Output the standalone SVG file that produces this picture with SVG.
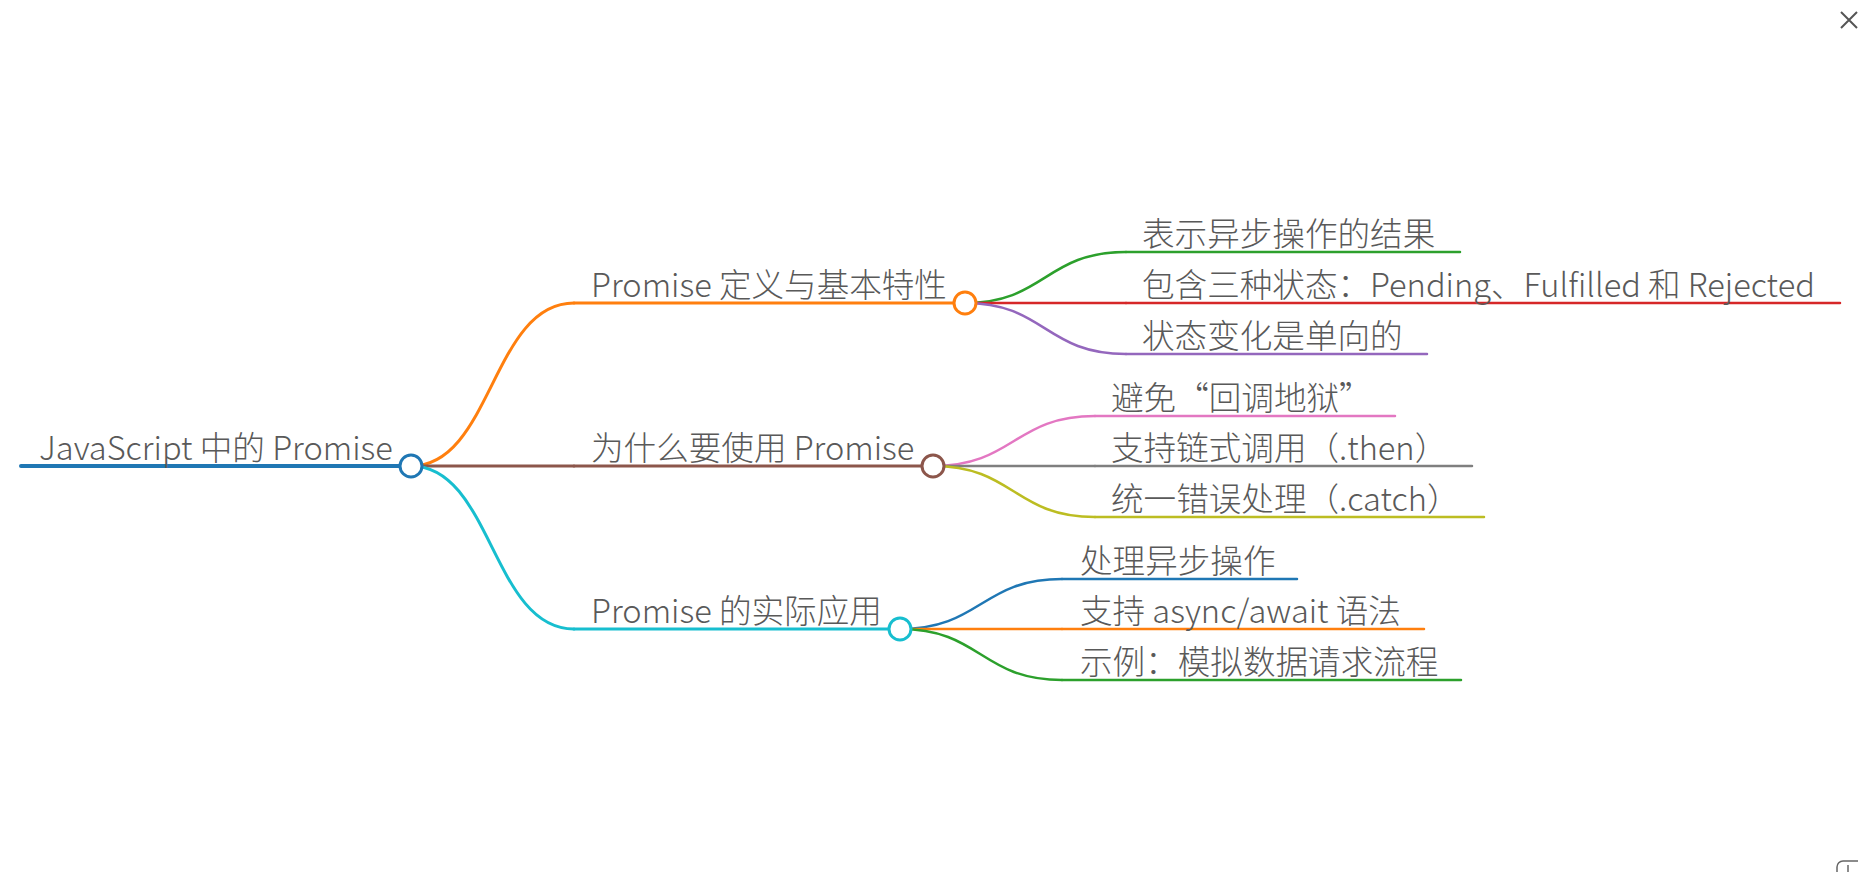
<svg xmlns="http://www.w3.org/2000/svg" width="1858" height="872" viewBox="0 0 1858 872">
<style>
text{font-family:"Noto Sans CJK SC","Noto Sans",sans-serif;font-size:32.6px;font-weight:300;fill:#595959}
.ln{fill:none;stroke-linecap:round}
.d0{stroke-width:4}
.d1{stroke-width:3}
.d2{stroke-width:2.5}
.dot{fill:#fff;stroke-width:3}
</style>
<rect width="1858" height="872" fill="#fff"/>
<g id="connectors">
<path class="ln d1" stroke="#ff7f0e" d="M411,466 C492,466 492,303 574,303"/>
<path class="ln d1" stroke="#8c564b" d="M411,466 L574,466"/>
<path class="ln d1" stroke="#17becf" d="M411,466 C492,466 492,629 574,629"/>
<path class="ln d2" stroke="#2ca02c" d="M965,303 C1045,303 1045,252 1126,252"/>
<path class="ln d2" stroke="#d62728" d="M965,303 L1126,303"/>
<path class="ln d2" stroke="#9467bd" d="M965,303 C1045,303 1045,354 1126,354"/>
<path class="ln d2" stroke="#e377c2" d="M933,466 C1014,466 1014,416 1095,416"/>
<path class="ln d2" stroke="#7f7f7f" d="M933,466 L1095,466"/>
<path class="ln d2" stroke="#bcbd22" d="M933,466 C1014,466 1014,517 1095,517"/>
<path class="ln d2" stroke="#1f77b4" d="M900,629 C981,629 981,579 1062,579"/>
<path class="ln d2" stroke="#ff7f0e" d="M900,629 L1062,629"/>
<path class="ln d2" stroke="#2ca02c" d="M900,629 C981,629 981,680 1062,680"/>
</g>
<g id="n-root">
<line class="ln d0" stroke="#1f77b4" x1="21" y1="466" x2="411" y2="466"/>
<text x="39" y="459.5">JavaScript 中的 Promise</text>
<circle class="dot" stroke="#1f77b4" cx="411" cy="466" r="11"/>
</g>
<g id="n1">
<line class="ln d1" stroke="#ff7f0e" x1="574" y1="303" x2="965" y2="303"/>
<text x="591" y="296.5">Promise 定义与基本特性</text>
<circle class="dot" stroke="#ff7f0e" cx="965" cy="303" r="11"/>
</g>
<g id="n1-1">
<line class="ln d2" stroke="#2ca02c" x1="1126" y1="252" x2="1460" y2="252"/>
<text x="1142" y="245.5">表示异步操作的结果</text>
</g>
<g id="n1-2">
<line class="ln d2" stroke="#d62728" x1="1126" y1="303" x2="1840" y2="303"/>
<text x="1142" y="296.5">包含三种状态：Pending、Fulfilled 和 Rejected</text>
</g>
<g id="n1-3">
<line class="ln d2" stroke="#9467bd" x1="1126" y1="354" x2="1427" y2="354"/>
<text x="1142" y="347.5">状态变化是单向的</text>
</g>
<g id="n2">
<line class="ln d1" stroke="#8c564b" x1="574" y1="466" x2="933" y2="466"/>
<text x="591" y="459.5">为什么要使用 Promise</text>
<circle class="dot" stroke="#8c564b" cx="933" cy="466" r="11"/>
</g>
<g id="n2-1">
<line class="ln d2" stroke="#e377c2" x1="1095" y1="416" x2="1395" y2="416"/>
<text x="1111" y="409.5">避免“回调地狱”</text>
</g>
<g id="n2-2">
<line class="ln d2" stroke="#7f7f7f" x1="1095" y1="466" x2="1472" y2="466"/>
<text x="1111" y="459.5">支持链式调用（.then）</text>
</g>
<g id="n2-3">
<line class="ln d2" stroke="#bcbd22" x1="1095" y1="517" x2="1484" y2="517"/>
<text x="1111" y="510.5">统一错误处理（.catch）</text>
</g>
<g id="n3">
<line class="ln d1" stroke="#17becf" x1="574" y1="629" x2="900" y2="629"/>
<text x="591" y="622.5">Promise 的实际应用</text>
<circle class="dot" stroke="#17becf" cx="900" cy="629" r="11"/>
</g>
<g id="n3-1">
<line class="ln d2" stroke="#1f77b4" x1="1062" y1="579" x2="1297" y2="579"/>
<text x="1080" y="572.5">处理异步操作</text>
</g>
<g id="n3-2">
<line class="ln d2" stroke="#ff7f0e" x1="1062" y1="629" x2="1424" y2="629"/>
<text x="1080" y="622.5">支持 async/await 语法</text>
</g>
<g id="n3-3">
<line class="ln d2" stroke="#2ca02c" x1="1062" y1="680" x2="1461" y2="680"/>
<text x="1080" y="673.5">示例：模拟数据请求流程</text>
</g>
<g id="ui">
<path d="M1841,12 L1857,28 M1857,12 L1841,28" stroke="#555" stroke-width="2" fill="none"/>
<rect x="1837" y="861" width="30" height="30" rx="6" fill="#fff" stroke="#666" stroke-width="1.5"/>
<line x1="1848" y1="865" x2="1848" y2="872" stroke="#666" stroke-width="1.5"/>
</g>
</svg>
